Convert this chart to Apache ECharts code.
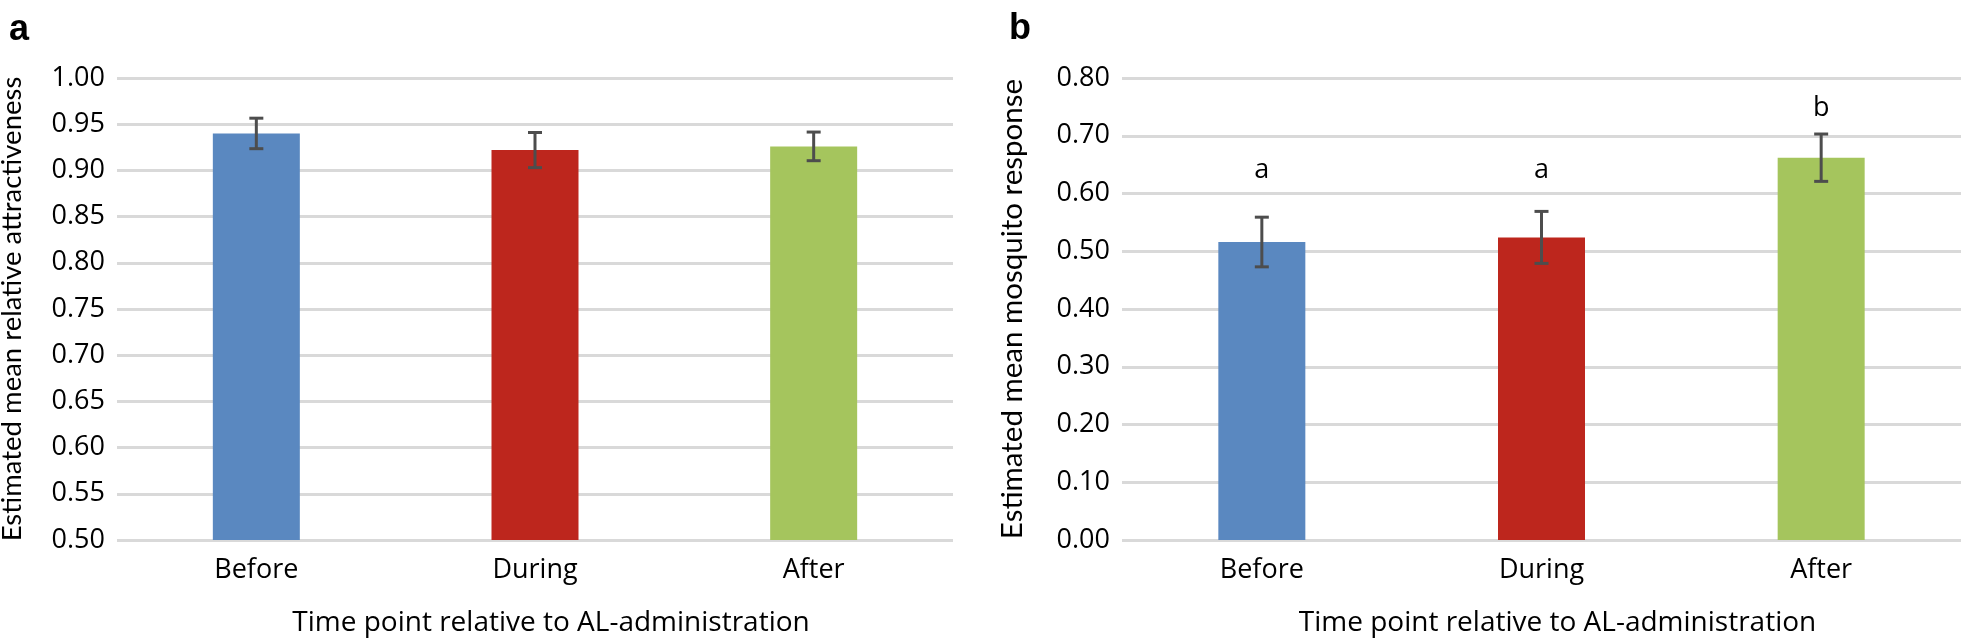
<!DOCTYPE html>
<html>
<head>
<meta charset="utf-8">
<script src="https://cdn.jsdelivr.net/npm/echarts@6/dist/echarts.min.js"></script>
<style>
  html, body { margin: 0; padding: 0; background: #fff; }
  #chart { width: 1961px; height: 641px; }
</style>
</head>
<body>
<div id="chart"></div>
<script>
// data
var categories = ['Before', 'During', 'After'];
var barColors = ['#5A88C0', '#BD261D', '#A5C55D'];

// panel a: relative attractiveness
var meanA = [0.940, 0.922, 0.926];
var errA = [0.0165, 0.019, 0.0155];
var ticksA = { min: 0.5, max: 1.0, interval: 0.05 };

// panel b: mosquito response
var meanB = [0.516, 0.524, 0.662];
var errB = [0.043, 0.045, 0.041];
var ticksB = { min: 0, max: 0.8, interval: 0.1 };
var lettersB = ['a', 'a', 'b'];
var letterPosB = [0.64, 0.64, 0.747];

var txtFont = '"Open Sans", sans-serif';
var gridColor = '#d9d9d9';

var myChart = echarts.init(document.getElementById('chart'));

function barData(means) {
  return means.map(function (v, i) {
    return { value: v, itemStyle: { color: barColors[i] } };
  });
}
function errData(means, errs) {
  return means.map(function (v, i) { return [i, v - errs[i], v + errs[i]]; });
}

function renderErr(params, api) {
  var x = api.value(0);
  var top = api.coord([x, api.value(2)]);
  var bot = api.coord([x, api.value(1)]);
  var hw = 7;
  var st = { stroke: '#4d4d4d', lineWidth: 3 };
  return {
    type: 'group',
    children: [
      { type: 'line', shape: { x1: top[0], y1: top[1], x2: bot[0], y2: bot[1] }, style: st },
      { type: 'line', shape: { x1: top[0] - hw, y1: top[1], x2: top[0] + hw, y2: top[1] }, style: st },
      { type: 'line', shape: { x1: bot[0] - hw, y1: bot[1], x2: bot[0] + hw, y2: bot[1] }, style: st }
    ]
  };
}

function renderLetter(params, api) {
  var p = api.coord([api.value(0), api.value(1)]);
  return {
    type: 'text',
    x: p[0], y: p[1],
    style: {
      text: lettersB[params.dataIndex],
      fontSize: 27, fontFamily: txtFont, fill: '#000',
      align: 'center', verticalAlign: 'middle'
    }
  };
}

function yAxisOf(gi, t, name, gap, nameSize) {
  return {
    type: 'value', gridIndex: gi,
    min: t.min, max: t.max, interval: t.interval,
    name: name, nameLocation: 'middle', nameGap: gap,
    nameTextStyle: { fontFamily: 'Lato', fontSize: nameSize, color: '#000' },
    axisLine: { show: false }, axisTick: { show: false },
    axisLabel: {
      margin: 12, fontFamily: txtFont, fontSize: 27, color: '#000',
      formatter: function (v) { return v.toFixed(2); }
    },
    splitLine: { show: true, lineStyle: { color: gridColor, width: 3 } }
  };
}

function xAxisOf(gi) {
  return {
    type: 'category', gridIndex: gi, data: categories,
    name: 'Time point relative to AL-administration',
    nameLocation: 'middle', nameGap: 69,
    nameTextStyle: { fontFamily: txtFont, fontSize: 28, color: '#000', padding: [0, 0, 0, 32] },
    axisLine: { show: false }, axisTick: { show: false },
    axisLabel: { margin: 17, fontFamily: txtFont, fontSize: 27, color: '#000' }
  };
}

option = {
  backgroundColor: '#fff',
  animation: false,
  title: [
    { text: 'a', left: 4, top: 7, textStyle: { fontFamily: 'Liberation Sans', fontWeight: 'bold', fontSize: 36, color: '#000' } },
    { text: 'b', left: 1004, top: 6, textStyle: { fontFamily: 'Liberation Sans', fontWeight: 'bold', fontSize: 36, color: '#000' } }
  ],
  grid: [
    { left: 117, top: 78, width: 836, height: 462, outerBoundsMode: 'none' },
    { left: 1122, top: 78, width: 839, height: 462, outerBoundsMode: 'none' }
  ],
  xAxis: [xAxisOf(0), xAxisOf(1)],
  yAxis: [
    yAxisOf(0, ticksA, 'Estimated mean relative attractiveness', 91, 27.5),
    yAxisOf(1, ticksB, 'Estimated mean mosquito response', 95, 29.5)
  ],
  series: [
    { type: 'bar', xAxisIndex: 0, yAxisIndex: 0, barWidth: 87, data: barData(meanA) },
    { type: 'custom', xAxisIndex: 0, yAxisIndex: 0, renderItem: renderErr, data: errData(meanA, errA), z: 5 },
    { type: 'bar', xAxisIndex: 1, yAxisIndex: 1, barWidth: 87, data: barData(meanB) },
    { type: 'custom', xAxisIndex: 1, yAxisIndex: 1, renderItem: renderErr, data: errData(meanB, errB), z: 5 },
    {
      type: 'custom', xAxisIndex: 1, yAxisIndex: 1, renderItem: renderLetter, z: 6,
      data: letterPosB.map(function (v, i) { return [i, v]; })
    }
  ]
};

myChart.setOption(option);
</script>
</body>
</html>
